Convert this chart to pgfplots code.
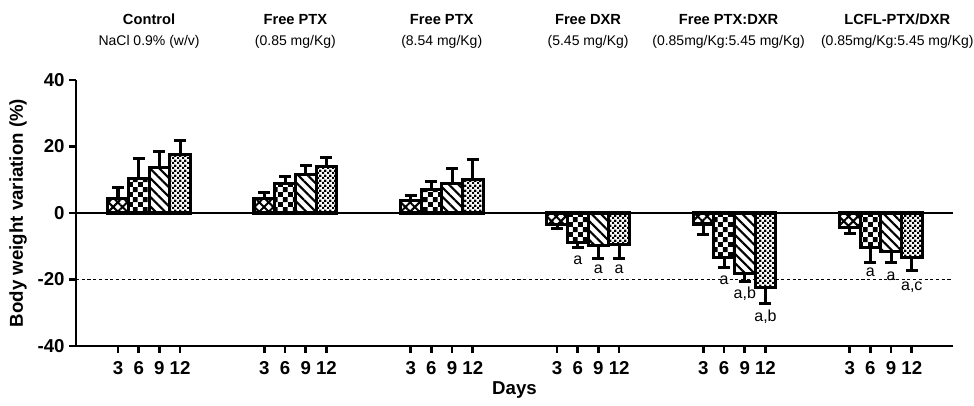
\documentclass[border=0pt]{standalone}
\usepackage{fontspec}
\setmainfont{Liberation Sans}
\usepackage{pgfplots}
\usepackage{pgfplotstable}
\pgfplotsset{compat=1.18}
\usetikzlibrary{patterns,patterns.meta}

% checkerboards used for day 6 and day 12
\pgfdeclarepatternformonly{bigchecker}{\pgfpointorigin}{\pgfpoint{7.4pt}{7.4pt}}{\pgfpoint{7.4pt}{7.4pt}}{%
  \pgfpathrectangle{\pgfpointorigin}{\pgfpoint{3.7pt}{3.7pt}}%
  \pgfpathrectangle{\pgfpoint{3.7pt}{3.7pt}}{\pgfpoint{3.7pt}{3.7pt}}%
  \pgfusepath{fill}}
\pgfdeclarepatternformonly{smallchecker}{\pgfpointorigin}{\pgfpoint{3.8pt}{3.8pt}}{\pgfpoint{3.8pt}{3.8pt}}{%
  \pgfpathrectangle{\pgfpointorigin}{\pgfpoint{1.9pt}{1.9pt}}%
  \pgfpathrectangle{\pgfpoint{1.9pt}{1.9pt}}{\pgfpoint{1.9pt}{1.9pt}}%
  \pgfusepath{fill}}

% x = group offset + day index; ep/em = upper/lower SEM
\pgfplotstableread{
x      y     ep   em
0      4.5   3.3  0
7.07   4.5   1.8  0
14.14  3.9   1.5  0
21.21  -3.5  0    1.2
28.28  -3.3  0    3.2
35.35  -4.3  0    1.9
}\dthree
\pgfplotstableread{
x      y     ep   em
1      10.5  6.0  0
8.07   9.0   2.1  0
15.14  7.2   2.4  0
22.21  -9.0  0    1.4
29.28  -13.3 0    3.1
36.35  -10.3 0    4.5
}\dsix
\pgfplotstableread{
x      y     ep   em
2      13.8  4.8  0
9.07   11.7  2.7  0
16.14  9.0   4.5  0
23.21  -9.7  0    3.9
30.28  -18.2 0    2.4
37.35  -11.5 0    3.3
}\dnine
\pgfplotstableread{
x      y     ep   em
3      17.7  4.2  0
10.07  14.1  2.7  0
17.14  10.2  6.0  0
24.21  -9.6  0    4.0
31.28  -22.4 0    4.8
38.35  -13.3 0    3.9
}\dtwelve

\newcommand{\axfont}{\bfseries\fontsize{14}{16}\selectfont}
\tikzset{
  lbl/.style={font=\fontsize{12}{13}\selectfont, anchor=center},
  ttl/.style={anchor=base, align=center, inner sep=0pt},
}

\begin{document}
\begin{tikzpicture}
\begin{axis}[
  scale only axis,
  width=657.75pt, height=199.5pt,
  xmin=-2.03, xmax=40.34, ymin=-40, ymax=40,
  axis x line=bottom, axis y line=left,
  axis line style={-, line width=2pt},
  ybar, bar width=1, bar shift=0pt,
  xtick={0,1,2,3,7.07,8.07,9.07,10.07,14.14,15.14,16.14,17.14,21.21,22.21,23.21,24.21,28.28,29.28,30.28,31.28,35.35,36.35,37.35,38.35},
  xticklabels={3,6,9,12,3,6,9,12,3,6,9,12,3,6,9,12,3,6,9,12,3,6,9,12},
  ytick={-40,-20,0,20,40},
  yticklabels={-40,-20,0,20,40},
  tick align=outside, major tick length=5pt,
  tick style={black, line width=2pt},
  ticklabel style={font=\axfont},
  xticklabel style={yshift=-3pt},
  xlabel={Days}, ylabel={Body weight variation (\%)},
  xlabel style={font=\axfont, at={(axis description cs:0.5,-0.165)}, anchor=center},
  ylabel style={font=\axfont, at={(axis description cs:-0.0661,0.5)}, anchor=center},
  clip=false,
  every axis plot/.append style={draw=black, line width=2.3pt},
  bars/.style={error bars/.cd, y dir=both, y explicit,
    error bar style={line width=2.3pt, black},
    error mark options={rotate=90, line width=2.3pt, mark size=4.5pt, black}},
]
% dotted threshold at -20 %
\addplot[sharp plot, dotted, line width=1pt, forget plot] coordinates {(-2.03,-20) (40.34,-20)};

\addplot[fill=white, postaction={pattern={Hatch[angle=45,distance=5pt,line width=1.5pt]}}, bars]
  table[x=x, y=y, y error plus=ep, y error minus=em] {\dthree};
\addplot[fill=white, postaction={pattern=bigchecker}, bars]
  table[x=x, y=y, y error plus=ep, y error minus=em] {\dsix};
\addplot[fill=white, postaction={pattern={Lines[angle=-45,distance=5pt,line width=1.6pt]}}, bars]
  table[x=x, y=y, y error plus=ep, y error minus=em] {\dnine};
\addplot[fill=white, postaction={pattern=smallchecker}, bars]
  table[x=x, y=y, y error plus=ep, y error minus=em] {\dtwelve};

% zero line
\addplot[sharp plot, line width=2pt, forget plot] coordinates {(-2.03,0) (40.34,0)};

% significance letters
\node[lbl] at (axis cs:22.21,-14.1) {a};
\node[lbl] at (axis cs:23.21,-16.8) {a};
\node[lbl] at (axis cs:24.21,-16.8) {a};
\node[lbl] at (axis cs:29.28,-20.2) {a};
\node[lbl] at (axis cs:30.28,-24.4) {a,b};
\node[lbl] at (axis cs:31.28,-31.3) {a,b};
\node[lbl] at (axis cs:36.35,-17.8) {a};
\node[lbl] at (axis cs:37.35,-19.0) {a};
\node[lbl] at (axis cs:38.35,-22.3) {a,c};

% group titles
\node[ttl, font=\bfseries\fontsize{11}{12}\selectfont] at (axis cs:1.5,40) [yshift=42pt] {Control};
\node[ttl, font=\fontsize{10.5}{12}\selectfont] at (axis cs:1.5,40) [yshift=26.25pt] {NaCl 0.9\% (w/v)};
\node[ttl, font=\bfseries\fontsize{11}{12}\selectfont] at (axis cs:8.57,40) [yshift=42pt] {Free PTX};
\node[ttl, font=\fontsize{10.5}{12}\selectfont] at (axis cs:8.57,40) [yshift=26.25pt] {(0.85 mg/Kg)};
\node[ttl, font=\bfseries\fontsize{11}{12}\selectfont] at (axis cs:15.64,40) [yshift=42pt] {Free PTX};
\node[ttl, font=\fontsize{10.5}{12}\selectfont] at (axis cs:15.64,40) [yshift=26.25pt] {(8.54 mg/Kg)};
\node[ttl, font=\bfseries\fontsize{11}{12}\selectfont] at (axis cs:22.71,40) [yshift=42pt] {Free DXR};
\node[ttl, font=\fontsize{10.5}{12}\selectfont] at (axis cs:22.71,40) [yshift=26.25pt] {(5.45 mg/Kg)};
\node[ttl, font=\bfseries\fontsize{11}{12}\selectfont] at (axis cs:29.5,40) [yshift=42pt] {Free PTX:DXR};
\node[ttl, font=\fontsize{10.5}{12}\selectfont] at (axis cs:29.5,40) [yshift=26.25pt] {(0.85mg/Kg:5.45 mg/Kg)};
\node[ttl, font=\bfseries\fontsize{11}{12}\selectfont] at (axis cs:37.65,40) [yshift=42pt] {LCFL-PTX/DXR};
\node[ttl, font=\fontsize{10.5}{12}\selectfont] at (axis cs:37.65,40) [yshift=26.25pt] {(0.85mg/Kg:5.45 mg/Kg)};
\end{axis}
\pgfresetboundingbox
\useasboundingbox (-57pt,-44.25pt) rectangle (673.5pt,259.5pt);
\end{tikzpicture}
\end{document}
